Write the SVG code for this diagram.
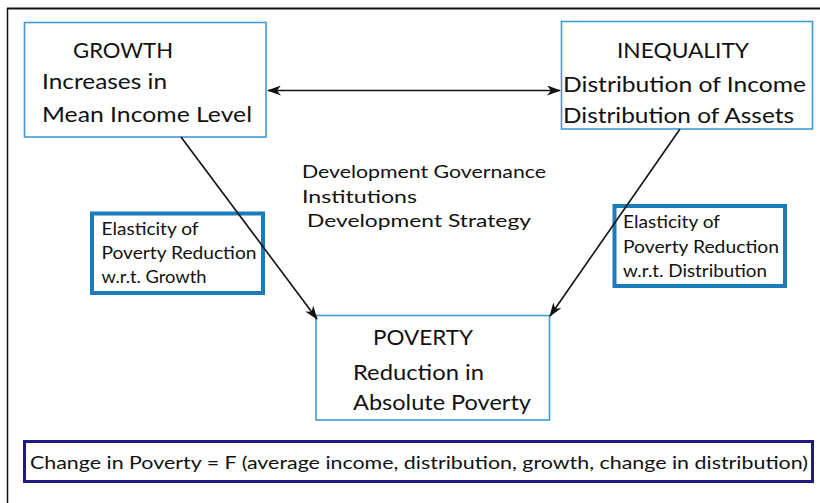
<svg xmlns="http://www.w3.org/2000/svg" width="820" height="503" viewBox="0 0 820 503">
  <defs>
    <style>
      text { font-family: Lato, "Liberation Sans", Arial, sans-serif; fill: #111; }
      .big { font-size: 21px; }
      .mid { font-size: 18px; }
      .small { font-size: 16.5px; }
      .node { fill: #fff; stroke: #3e9bd3; stroke-width: 1.6; }
      .elast { fill: #fff; stroke: #1b7cbc; stroke-width: 4; }
      .formula { fill: #fff; stroke: #1e1a80; stroke-width: 3; }
      .conn { stroke: #111; stroke-width: 1.6; fill: none; }
    </style>
    <marker id="arrow" viewBox="0 0 14 10" refX="13" refY="5" markerWidth="14" markerHeight="10" markerUnits="userSpaceOnUse" orient="auto-start-reverse">
      <path d="M0,0 L14,5 L0,10 L4,5 z" fill="#111"/>
    </marker>
  </defs>

  <rect x="0" y="0" width="820" height="503" fill="#fff"/>
  <!-- outer frame: top and left edges -->
  <line x1="7" y1="8.5" x2="820" y2="8.5" stroke="#111" stroke-width="1.8"/>
  <line x1="7.5" y1="8" x2="7.5" y2="503" stroke="#111" stroke-width="1.5"/>

  <g id="growth">
    <rect class="node" x="24.5" y="22.5" width="241.5" height="114.5"/>
    <text class="big" x="73" y="58" textLength="100" lengthAdjust="spacingAndGlyphs">GROWTH</text>
    <text class="big" x="42" y="89" textLength="125" lengthAdjust="spacingAndGlyphs">Increases in</text>
    <text class="big" x="42" y="122" textLength="210" lengthAdjust="spacingAndGlyphs">Mean Income Level</text>
  </g>

  <g id="inequality">
    <rect class="node" x="561.5" y="21.5" width="251" height="107.5"/>
    <text class="big" x="617" y="58" textLength="132" lengthAdjust="spacingAndGlyphs">INEQUALITY</text>
    <text class="big" x="563" y="92" textLength="243" lengthAdjust="spacingAndGlyphs">Distribution of Income</text>
    <text class="big" x="563" y="123" textLength="231" lengthAdjust="spacingAndGlyphs">Distribution of Assets</text>
  </g>

  <g id="context">
    <text class="mid" x="302" y="178" textLength="244" lengthAdjust="spacingAndGlyphs">Development Governance</text>
    <text class="mid" x="302" y="203" textLength="115" lengthAdjust="spacingAndGlyphs">Institutions</text>
    <text class="mid" x="307" y="227" textLength="224" lengthAdjust="spacingAndGlyphs">Development Strategy</text>
  </g>

  <g id="elasticity-growth">
    <rect class="elast" x="92" y="213.5" width="171" height="79.5"/>
    <text class="small" x="101.5" y="235" textLength="97" lengthAdjust="spacingAndGlyphs">Elasticity of</text>
    <text class="small" x="101.5" y="259" textLength="155" lengthAdjust="spacingAndGlyphs">Poverty Reduction</text>
    <text class="small" x="101.5" y="283" textLength="105" lengthAdjust="spacingAndGlyphs">w.r.t. Growth</text>
  </g>

  <g id="elasticity-distribution">
    <rect class="elast" x="614.5" y="206" width="170.5" height="80"/>
    <text class="small" x="623" y="228" textLength="97" lengthAdjust="spacingAndGlyphs">Elasticity of</text>
    <text class="small" x="623" y="253" textLength="156" lengthAdjust="spacingAndGlyphs">Poverty Reduction</text>
    <text class="small" x="623" y="277" textLength="144" lengthAdjust="spacingAndGlyphs">w.r.t. Distribution</text>
  </g>

  <g id="poverty">
    <rect class="node" x="316" y="315.5" width="233.5" height="104.5"/>
    <text class="big" x="373" y="345" textLength="100" lengthAdjust="spacingAndGlyphs">POVERTY</text>
    <text class="big" x="353" y="380" textLength="131" lengthAdjust="spacingAndGlyphs">Reduction in</text>
    <text class="big" x="353" y="410" textLength="178" lengthAdjust="spacingAndGlyphs">Absolute Poverty</text>
  </g>

  <g id="formula">
    <rect class="formula" x="24.5" y="441.5" width="788" height="40"/>
    <text class="mid" x="30" y="469" textLength="778" lengthAdjust="spacingAndGlyphs">Change in Poverty = F (average income, distribution, growth, change in distribution)</text>
  </g>

  <!-- connectors drawn last so they cross over the elasticity boxes -->
  <g id="connectors">
    <line class="conn" x1="268" y1="90.5" x2="560" y2="90.5" marker-start="url(#arrow)" marker-end="url(#arrow)"/>
    <line class="conn" x1="181" y1="137" x2="317" y2="319" marker-end="url(#arrow)"/>
    <line class="conn" x1="680" y1="129" x2="550" y2="316" marker-end="url(#arrow)"/>
  </g>
</svg>
